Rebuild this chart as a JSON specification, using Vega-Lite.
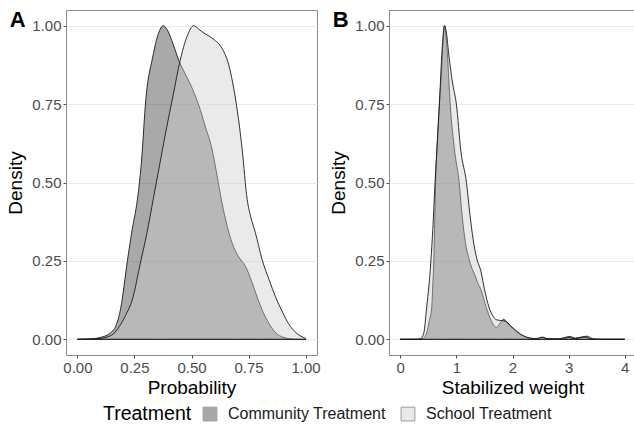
{
 "$schema": "https://vega.github.io/schema/vega-lite/v6.json",
 "padding": {"left": 6, "top": 8, "right": 0, "bottom": 0},
 "config": {
  "font": "Liberation Sans",
  "view": {"stroke": "#8a8a8a", "strokeWidth": 1},
  "axis": {"labelFontSize": 15, "labelColor": "#4d4d4d", "titleFontSize": 19, "titleFontWeight": "normal", "titleColor": "#000000", "tickColor": "#4d4d4d", "tickSize": 3, "domain": false, "gridColor": "#ebebeb", "labelPadding": 2},
  "axisX": {"grid": false, "titlePadding": 3},
  "axisY": {"titlePadding": 6},
  "title": {"fontSize": 22, "fontWeight": "bold", "color": "#000000", "anchor": "start", "frame": "bounds", "offset": 0}
 },
 "datasets": {
  "panelA": [
   {"treatment": "Community Treatment", "x": 0, "density": 0},
   {"treatment": "Community Treatment", "x": 0.05, "density": 0.001},
   {"treatment": "Community Treatment", "x": 0.1, "density": 0.006},
   {"treatment": "Community Treatment", "x": 0.14, "density": 0.018},
   {"treatment": "Community Treatment", "x": 0.17, "density": 0.045},
   {"treatment": "Community Treatment", "x": 0.19, "density": 0.1},
   {"treatment": "Community Treatment", "x": 0.219, "density": 0.25},
   {"treatment": "Community Treatment", "x": 0.24, "density": 0.35},
   {"treatment": "Community Treatment", "x": 0.263, "density": 0.446},
   {"treatment": "Community Treatment", "x": 0.28, "density": 0.56},
   {"treatment": "Community Treatment", "x": 0.3, "density": 0.766},
   {"treatment": "Community Treatment", "x": 0.33, "density": 0.9},
   {"treatment": "Community Treatment", "x": 0.355, "density": 0.975},
   {"treatment": "Community Treatment", "x": 0.376, "density": 1.0},
   {"treatment": "Community Treatment", "x": 0.395, "density": 0.985},
   {"treatment": "Community Treatment", "x": 0.42, "density": 0.94},
   {"treatment": "Community Treatment", "x": 0.445, "density": 0.888},
   {"treatment": "Community Treatment", "x": 0.47, "density": 0.85},
   {"treatment": "Community Treatment", "x": 0.497, "density": 0.81},
   {"treatment": "Community Treatment", "x": 0.533, "density": 0.744},
   {"treatment": "Community Treatment", "x": 0.56, "density": 0.68},
   {"treatment": "Community Treatment", "x": 0.59, "density": 0.606},
   {"treatment": "Community Treatment", "x": 0.61, "density": 0.53},
   {"treatment": "Community Treatment", "x": 0.628, "density": 0.456},
   {"treatment": "Community Treatment", "x": 0.65, "density": 0.38},
   {"treatment": "Community Treatment", "x": 0.678, "density": 0.307},
   {"treatment": "Community Treatment", "x": 0.705, "density": 0.265},
   {"treatment": "Community Treatment", "x": 0.737, "density": 0.232},
   {"treatment": "Community Treatment", "x": 0.766, "density": 0.18},
   {"treatment": "Community Treatment", "x": 0.79, "density": 0.13},
   {"treatment": "Community Treatment", "x": 0.81, "density": 0.093},
   {"treatment": "Community Treatment", "x": 0.84, "density": 0.05},
   {"treatment": "Community Treatment", "x": 0.87, "density": 0.02},
   {"treatment": "Community Treatment", "x": 0.9, "density": 0.007},
   {"treatment": "Community Treatment", "x": 0.93, "density": 0.002},
   {"treatment": "Community Treatment", "x": 0.96, "density": 0},
   {"treatment": "Community Treatment", "x": 1.0, "density": 0},
   {"treatment": "School Treatment", "x": 0, "density": 0},
   {"treatment": "School Treatment", "x": 0.05, "density": 0.0005},
   {"treatment": "School Treatment", "x": 0.1, "density": 0.003},
   {"treatment": "School Treatment", "x": 0.15, "density": 0.013},
   {"treatment": "School Treatment", "x": 0.183, "density": 0.04},
   {"treatment": "School Treatment", "x": 0.21, "density": 0.075},
   {"treatment": "School Treatment", "x": 0.24, "density": 0.125},
   {"treatment": "School Treatment", "x": 0.278, "density": 0.25},
   {"treatment": "School Treatment", "x": 0.305, "density": 0.34},
   {"treatment": "School Treatment", "x": 0.332, "density": 0.446},
   {"treatment": "School Treatment", "x": 0.36, "density": 0.555},
   {"treatment": "School Treatment", "x": 0.387, "density": 0.66},
   {"treatment": "School Treatment", "x": 0.42, "density": 0.78},
   {"treatment": "School Treatment", "x": 0.45, "density": 0.888},
   {"treatment": "School Treatment", "x": 0.48, "density": 0.965},
   {"treatment": "School Treatment", "x": 0.51, "density": 1.0},
   {"treatment": "School Treatment", "x": 0.53, "density": 0.99},
   {"treatment": "School Treatment", "x": 0.547, "density": 0.98},
   {"treatment": "School Treatment", "x": 0.577, "density": 0.967},
   {"treatment": "School Treatment", "x": 0.6, "density": 0.955},
   {"treatment": "School Treatment", "x": 0.62, "density": 0.942},
   {"treatment": "School Treatment", "x": 0.645, "density": 0.912},
   {"treatment": "School Treatment", "x": 0.664, "density": 0.873},
   {"treatment": "School Treatment", "x": 0.68, "density": 0.82},
   {"treatment": "School Treatment", "x": 0.693, "density": 0.766},
   {"treatment": "School Treatment", "x": 0.71, "density": 0.68},
   {"treatment": "School Treatment", "x": 0.722, "density": 0.606},
   {"treatment": "School Treatment", "x": 0.744, "density": 0.446},
   {"treatment": "School Treatment", "x": 0.76, "density": 0.39},
   {"treatment": "School Treatment", "x": 0.78, "density": 0.34},
   {"treatment": "School Treatment", "x": 0.81, "density": 0.253},
   {"treatment": "School Treatment", "x": 0.84, "density": 0.19},
   {"treatment": "School Treatment", "x": 0.868, "density": 0.136},
   {"treatment": "School Treatment", "x": 0.9, "density": 0.085},
   {"treatment": "School Treatment", "x": 0.925, "density": 0.05},
   {"treatment": "School Treatment", "x": 0.96, "density": 0.02},
   {"treatment": "School Treatment", "x": 1.0, "density": 0.003}
  ],
  "panelB": [
   {"treatment": "Community Treatment", "x": 0, "density": 0},
   {"treatment": "Community Treatment", "x": 0.35, "density": 0},
   {"treatment": "Community Treatment", "x": 0.42, "density": 0.004},
   {"treatment": "Community Treatment", "x": 0.47, "density": 0.02},
   {"treatment": "Community Treatment", "x": 0.52, "density": 0.06},
   {"treatment": "Community Treatment", "x": 0.56, "density": 0.1},
   {"treatment": "Community Treatment", "x": 0.58, "density": 0.17},
   {"treatment": "Community Treatment", "x": 0.6, "density": 0.26},
   {"treatment": "Community Treatment", "x": 0.615, "density": 0.38},
   {"treatment": "Community Treatment", "x": 0.63, "density": 0.5},
   {"treatment": "Community Treatment", "x": 0.66, "density": 0.62},
   {"treatment": "Community Treatment", "x": 0.7, "density": 0.75},
   {"treatment": "Community Treatment", "x": 0.74, "density": 0.87},
   {"treatment": "Community Treatment", "x": 0.77, "density": 0.97},
   {"treatment": "Community Treatment", "x": 0.79, "density": 1.0},
   {"treatment": "Community Treatment", "x": 0.81, "density": 0.98},
   {"treatment": "Community Treatment", "x": 0.84, "density": 0.91},
   {"treatment": "Community Treatment", "x": 0.89, "density": 0.75},
   {"treatment": "Community Treatment", "x": 0.97, "density": 0.6},
   {"treatment": "Community Treatment", "x": 1.05, "density": 0.5},
   {"treatment": "Community Treatment", "x": 1.1, "density": 0.4},
   {"treatment": "Community Treatment", "x": 1.16, "density": 0.31},
   {"treatment": "Community Treatment", "x": 1.22, "density": 0.26},
   {"treatment": "Community Treatment", "x": 1.28, "density": 0.225},
   {"treatment": "Community Treatment", "x": 1.33, "density": 0.205},
   {"treatment": "Community Treatment", "x": 1.38, "density": 0.18},
   {"treatment": "Community Treatment", "x": 1.44, "density": 0.157},
   {"treatment": "Community Treatment", "x": 1.53, "density": 0.103},
   {"treatment": "Community Treatment", "x": 1.62, "density": 0.06},
   {"treatment": "Community Treatment", "x": 1.68, "density": 0.042},
   {"treatment": "Community Treatment", "x": 1.72, "density": 0.038},
   {"treatment": "Community Treatment", "x": 1.78, "density": 0.052},
   {"treatment": "Community Treatment", "x": 1.84, "density": 0.064},
   {"treatment": "Community Treatment", "x": 1.9, "density": 0.055},
   {"treatment": "Community Treatment", "x": 2.0, "density": 0.035},
   {"treatment": "Community Treatment", "x": 2.1, "density": 0.02},
   {"treatment": "Community Treatment", "x": 2.2, "density": 0.01},
   {"treatment": "Community Treatment", "x": 2.35, "density": 0.003},
   {"treatment": "Community Treatment", "x": 2.45, "density": 0.002},
   {"treatment": "Community Treatment", "x": 2.53, "density": 0.007},
   {"treatment": "Community Treatment", "x": 2.62, "density": 0.002},
   {"treatment": "Community Treatment", "x": 2.8, "density": 0.001},
   {"treatment": "Community Treatment", "x": 2.93, "density": 0.006},
   {"treatment": "Community Treatment", "x": 3.02, "density": 0.009},
   {"treatment": "Community Treatment", "x": 3.12, "density": 0.004},
   {"treatment": "Community Treatment", "x": 3.22, "density": 0.007},
   {"treatment": "Community Treatment", "x": 3.33, "density": 0.01},
   {"treatment": "Community Treatment", "x": 3.42, "density": 0.002},
   {"treatment": "Community Treatment", "x": 3.5, "density": 0},
   {"treatment": "Community Treatment", "x": 4.0, "density": 0},
   {"treatment": "School Treatment", "x": 0, "density": 0},
   {"treatment": "School Treatment", "x": 0.3, "density": 0},
   {"treatment": "School Treatment", "x": 0.37, "density": 0.003},
   {"treatment": "School Treatment", "x": 0.42, "density": 0.02},
   {"treatment": "School Treatment", "x": 0.47, "density": 0.1},
   {"treatment": "School Treatment", "x": 0.53, "density": 0.21},
   {"treatment": "School Treatment", "x": 0.58, "density": 0.35},
   {"treatment": "School Treatment", "x": 0.62, "density": 0.5},
   {"treatment": "School Treatment", "x": 0.66, "density": 0.63},
   {"treatment": "School Treatment", "x": 0.7, "density": 0.76},
   {"treatment": "School Treatment", "x": 0.745, "density": 0.92},
   {"treatment": "School Treatment", "x": 0.79, "density": 1.0},
   {"treatment": "School Treatment", "x": 0.82, "density": 0.98},
   {"treatment": "School Treatment", "x": 0.87, "density": 0.9},
   {"treatment": "School Treatment", "x": 0.93, "density": 0.82},
   {"treatment": "School Treatment", "x": 1.0, "density": 0.75},
   {"treatment": "School Treatment", "x": 1.08, "density": 0.6},
   {"treatment": "School Treatment", "x": 1.18, "density": 0.5},
   {"treatment": "School Treatment", "x": 1.24, "density": 0.4},
   {"treatment": "School Treatment", "x": 1.3, "density": 0.317},
   {"treatment": "School Treatment", "x": 1.36, "density": 0.26},
   {"treatment": "School Treatment", "x": 1.44, "density": 0.215},
   {"treatment": "School Treatment", "x": 1.5, "density": 0.16},
   {"treatment": "School Treatment", "x": 1.58, "density": 0.103},
   {"treatment": "School Treatment", "x": 1.65, "density": 0.075},
   {"treatment": "School Treatment", "x": 1.72, "density": 0.062},
   {"treatment": "School Treatment", "x": 1.8, "density": 0.06},
   {"treatment": "School Treatment", "x": 1.87, "density": 0.058},
   {"treatment": "School Treatment", "x": 1.95, "density": 0.045},
   {"treatment": "School Treatment", "x": 2.05, "density": 0.03},
   {"treatment": "School Treatment", "x": 2.15, "density": 0.016},
   {"treatment": "School Treatment", "x": 2.25, "density": 0.007},
   {"treatment": "School Treatment", "x": 2.4, "density": 0.002},
   {"treatment": "School Treatment", "x": 2.53, "density": 0.006},
   {"treatment": "School Treatment", "x": 2.65, "density": 0.001},
   {"treatment": "School Treatment", "x": 2.9, "density": 0.001},
   {"treatment": "School Treatment", "x": 3.0, "density": 0.006},
   {"treatment": "School Treatment", "x": 3.1, "density": 0.002},
   {"treatment": "School Treatment", "x": 3.3, "density": 0.007},
   {"treatment": "School Treatment", "x": 3.4, "density": 0.001},
   {"treatment": "School Treatment", "x": 3.6, "density": 0},
   {"treatment": "School Treatment", "x": 4.0, "density": 0}
  ]
 },
 "spacing": 8,
 "resolve": {"scale": {"fill": "shared"}},
 "hconcat": [
  {
   "width": 251,
   "height": 345,
   "data": {"name": "panelA"},
   "title": {"text": "A", "dy": 26, "dx": 3},
   "mark": {"type": "area", "interpolate": "monotone", "fillOpacity": 0.42, "stroke": "#1a1a1a", "strokeWidth": 0.9},
   "encoding": {
    "x": {"field": "x", "type": "quantitative", "scale": {"domain": [-0.05, 1.05], "nice": false, "zero": false}, "axis": {"values": [0, 0.25, 0.5, 0.75, 1], "format": ".2f", "title": "Probability"}},
    "y": {"field": "density", "type": "quantitative", "stack": null, "scale": {"domain": [-0.05, 1.05], "nice": false}, "axis": {"values": [0, 0.25, 0.5, 0.75, 1], "format": ".2f", "title": "Density"}},
    "y2": {"datum": 0},
    "fill": {"field": "treatment", "type": "nominal", "scale": {"domain": ["Community Treatment", "School Treatment"], "range": ["#333333", "#cccccc"]}, "legend": {"title": "Treatment", "orient": "none", "legendX": 37, "legendY": 396, "direction": "horizontal", "titleOrient": "left", "titleFontSize": 19.5, "titleFontWeight": "normal", "titleColor": "#000000", "labelFontSize": 16, "labelColor": "#1a1a1a", "symbolType": "square", "symbolSize": 190, "symbolStrokeColor": "#7a7a7a", "symbolStrokeWidth": 1, "symbolOpacity": 0.42, "labelOffset": 10, "columnPadding": 13, "titlePadding": 10}}
   }
  },
  {
   "width": 247,
   "height": 345,
   "data": {"name": "panelB"},
   "title": {"text": "B", "dy": 26, "dx": 3},
   "mark": {"type": "area", "interpolate": "monotone", "fillOpacity": 0.42, "stroke": "#1a1a1a", "strokeWidth": 0.9},
   "encoding": {
    "x": {"field": "x", "type": "quantitative", "scale": {"domain": [-0.2, 4.2], "nice": false, "zero": false}, "axis": {"values": [0, 1, 2, 3, 4], "format": "d", "title": "Stabilized weight"}},
    "y": {"field": "density", "type": "quantitative", "stack": null, "scale": {"domain": [-0.05, 1.05], "nice": false}, "axis": {"values": [0, 0.25, 0.5, 0.75, 1], "format": ".2f", "title": "Density"}},
    "y2": {"datum": 0},
    "fill": {"field": "treatment", "type": "nominal"}
   }
  }
 ]
}
